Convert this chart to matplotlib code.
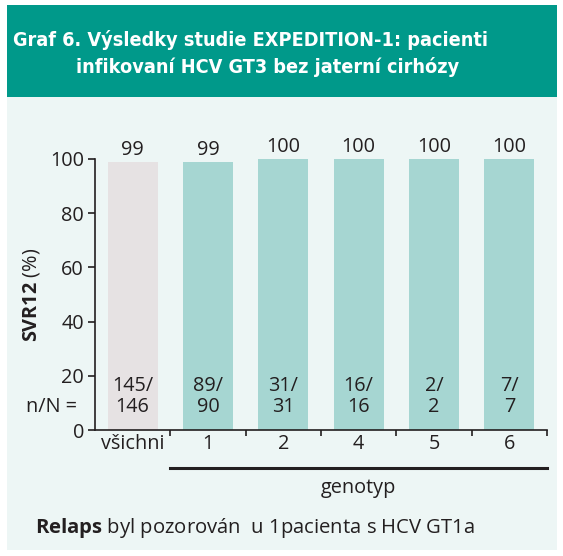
import matplotlib as mpl
import matplotlib.pyplot as plt
from matplotlib.patches import Rectangle
from matplotlib.transforms import blended_transform_factory

mpl.rcParams['font.family'] = ['Open Sans', 'DejaVu Sans']
mpl.rcParams['mathtext.fontset'] = 'custom'
mpl.rcParams['mathtext.rm'] = 'Open Sans'
mpl.rcParams['mathtext.bf'] = 'Open Sans:bold'

categories = ['všichni', '1', '2', '4', '5', '6']
svr = [99, 99, 100, 100, 100, 100]
n_resp = [145, 89, 31, 16, 2, 7]
n_total = [146, 90, 31, 16, 2, 7]
y_ticks = [0, 20, 40, 60, 80, 100]

title_1 = 'Graf 6. Výsledky studie EXPEDITION-1: pacienti'
title_2 = 'infikovaní HCV GT3 bez jaterní cirhózy'
footnote_bold = 'Relaps'
footnote_rest = ' byl pozorován  u 1pacienta s HCV GT1a'

header_col = '#00998A'
bg_col = '#EDF6F5'
grey_col = '#E6E2E3'
teal_col = '#A6D6D2'
ink = '#231F20'
fs = 14.3

W, H = 563, 556
fig = plt.figure(figsize=(W / 100, H / 100), dpi=100)
fig.patch.set_facecolor('white')

# panels behind everything
fig.patches.append(Rectangle((7 / W, 1 - 550 / H), 550 / W, 453 / H, transform=fig.transFigure,
                             facecolor=bg_col, edgecolor='none', zorder=-2))
fig.patches.append(Rectangle((7 / W, 1 - 97 / H), 550 / W, 92 / H, transform=fig.transFigure,
                             facecolor=header_col, edgecolor='none', zorder=-2))

# title: condensed bold, shrink to fit the measured width
renderer = fig.canvas.get_renderer()
t1 = fig.text(13 / W, 1 - 40 / H, title_1, color='white', fontsize=17, fontweight='bold',
              family='DejaVu Sans', fontstretch='condensed', ha='left', va='center')
w1 = t1.get_window_extent(renderer).width
title_fs = 17 * 475 / w1
t1.set_fontsize(title_fs)
fig.text(76 / W, 1 - 67 / H, title_2, color='white', fontsize=title_fs, fontweight='bold',
         family='DejaVu Sans', fontstretch='condensed', ha='left', va='center')

ax = fig.add_axes([95 / W, 1 - 430 / H, 452 / W, 271 / H])
ax.set_zorder(2)
ax.set_facecolor('none')
x = list(range(len(categories)))
colors = [grey_col] + [teal_col] * (len(categories) - 1)
ax.bar(x, svr, width=0.66, color=colors, zorder=2)

ax.set_xlim(-0.5, len(categories) - 0.5)
ax.set_ylim(0, 100)
for s in ['top', 'right']:
    ax.spines[s].set_visible(False)
for s in ['left', 'bottom']:
    ax.spines[s].set_color(ink)
    ax.spines[s].set_linewidth(1.2)

ax.set_yticks(y_ticks)
ax.tick_params(axis='y', labelsize=fs, length=5, width=1.2, color=ink, labelcolor=ink, pad=3)
ax.set_xticks(x, categories)
ax.tick_params(axis='x', which='major', length=0, labelsize=fs, labelcolor=ink, pad=3)
ax.set_xticks([i + 0.5 for i in x], minor=True)
ax.tick_params(axis='x', which='minor', length=4, width=1.2, color=ink, direction='out')

for i in x:
    ax.text(i, svr[i] + 4.5, str(svr[i]), ha='center', va='center', fontsize=fs, color=ink, clip_on=False)
    ax.text(i, 12.4, f'{n_resp[i]}/\n{n_total[i]}', ha='center', va='center', fontsize=fs,
            color=ink, linespacing=1.1)

ax.text(-0.04, 8.5, 'n/N =', transform=blended_transform_factory(ax.transAxes, ax.transData),
        ha='right', va='center', fontsize=fs, color=ink)

ax.set_ylabel(r'$\mathbf{SVR12}$ (%)', fontsize=fs, color=ink, labelpad=6)

tr = blended_transform_factory(ax.transData, ax.transAxes)
ax.plot([0.5, len(categories) - 0.5], [-0.142, -0.142], transform=tr, color=ink, lw=2.2, clip_on=False)
ax.text((len(categories) - 1) / 2 + 0.5, -0.214, 'genotyp', transform=tr, ha='center', va='center',
        fontsize=fs, color=ink)

fig.text(35 / W, 1 - 528 / H, r'$\mathbf{' + footnote_bold + '}$' + footnote_rest, fontsize=14.6,
         color=ink, ha='left', va='center')

fig.savefig('out.png', dpi=100)
